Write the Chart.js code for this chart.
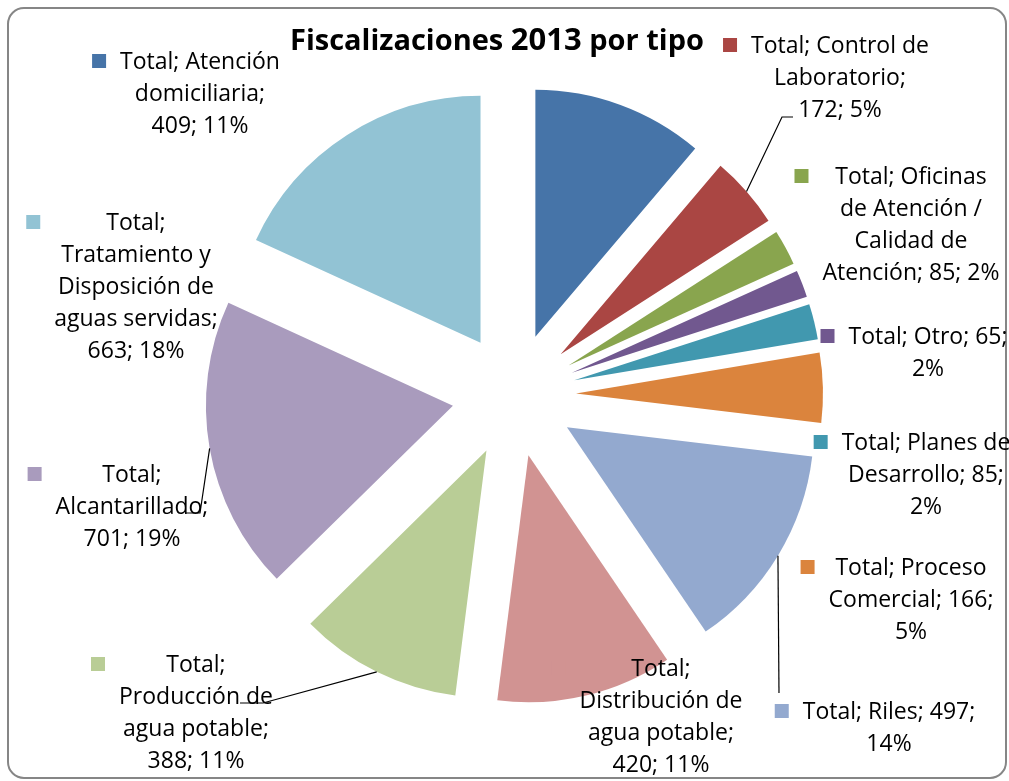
<!DOCTYPE html>
<html lang="es">
<head>
    <meta charset="UTF-8">
    <title>Fiscalizaciones 2013 por tipo</title>
    <script src="https://cdn.jsdelivr.net/npm/chart.js"></script>
    <style>
        body {
            margin: 0;
            background-color: #ffffff;
        }
        .chart-box {
            position: relative;
            width: 1009px;
            height: 781px;
        }
    </style>
</head>
<body>
    <div class="chart-box">
        <canvas id="pieChart"></canvas>
    </div>

    <script>
        // Data
        const categories = ['Atención domiciliaria', 'Control de Laboratorio', 'Oficinas de Atención / Calidad de Atención',
            'Otro', 'Planes de Desarrollo', 'Proceso Comercial', 'Riles', 'Distribución de agua potable',
            'Producción de agua potable', 'Alcantarillado', 'Tratamiento y Disposición de aguas servidas'];
        const values = [409, 172, 85, 65, 85, 166, 497, 420, 388, 701, 663];
        const percents = ['11%', '5%', '2%', '2%', '2%', '5%', '14%', '11%', '11%', '19%', '18%'];
        const colors = ['#4674A8', '#AA4643', '#89A54E', '#71588F', '#4198AF', '#DB843D',
            '#93A9CF', '#D19392', '#B9CD96', '#A99BBD', '#92C3D4'];

        // label layout: wrapped lines, block centre x, first line centre y, optional leader points
        const labelLayout = [
            { x: 200, y: 61, lines: ['Total; Atención', 'domiciliaria;', '409; 11%'] },
            { x: 840, y: 45, lines: ['Total; Control de', 'Laboratorio;', '172; 5%'], leader: [[793, 117], [782, 117]] },
            { x: 911, y: 176, lines: ['Total; Oficinas', 'de Atención /', 'Calidad de', 'Atención; 85; 2%'] },
            { x: 928, y: 336, lines: ['Total; Otro; 65;', '2%'] },
            { x: 926, y: 442, lines: ['Total; Planes de', 'Desarrollo; 85;', '2%'] },
            { x: 911, y: 567, lines: ['Total; Proceso', 'Comercial; 166;', '5%'] },
            { x: 889, y: 711, lines: ['Total; Riles; 497;', '14%'], leader: [[779, 693]] },
            { x: 661, y: 668, lines: ['Total;', 'Distribución de', 'agua potable;', '420; 11%'] },
            { x: 196, y: 664, lines: ['Total;', 'Producción de', 'agua potable;', '388; 11%'], leader: [[240, 703], [263, 703]] },
            { x: 132, y: 474, lines: ['Total;', 'Alcantarillado;', '701; 19%'], leader: [[185, 513], [200, 513]] },
            { x: 136, y: 222, lines: ['Total;', 'Tratamiento y', 'Disposición de', 'aguas servidas;', '663; 18%'] }
        ];

        const EXPLODE = 62;
        const FONT = '"Open Sans", sans-serif';
        const LABEL_SIZE = 23;
        const LINE_H = 32;

        // pull every slice out along its bisector, drawing it with the arc's own draw()
        const explodePlugin = {
            id: 'explode',
            beforeDatasetDraw(chart, args) {
                const ctx = chart.ctx;
                const meta = args.meta;
                meta.data.forEach(arc => {
                    const mid = (arc.startAngle + arc.endAngle) / 2;
                    ctx.save();
                    ctx.translate(Math.cos(mid) * EXPLODE, Math.sin(mid) * EXPLODE);
                    arc.draw(ctx, chart.chartArea);
                    ctx.restore();
                });
                return false;
            }
        };

        const labelsPlugin = {
            id: 'excelLabels',
            afterDraw(chart) {
                const ctx = chart.ctx;
                const meta = chart.getDatasetMeta(0);

                // outer frame
                ctx.save();
                ctx.strokeStyle = '#868686';
                ctx.lineWidth = 2;
                ctx.beginPath();
                ctx.roundRect(8, 8, 998, 770, 16);
                ctx.stroke();
                ctx.restore();

                // title
                ctx.save();
                ctx.fillStyle = '#000';
                ctx.textBaseline = 'alphabetic';
                const parts = [['Fiscalizaciones ', 29], ['2013', 31], [' por tipo', 29]];
                let total = 0;
                parts.forEach(p => {
                    ctx.font = `bold ${p[1]}px ${FONT}`;
                    total += ctx.measureText(p[0]).width;
                });
                let tx = 497 - total / 2;
                parts.forEach(p => {
                    ctx.font = `bold ${p[1]}px ${FONT}`;
                    ctx.fillText(p[0], tx, 50);
                    tx += ctx.measureText(p[0]).width;
                });
                ctx.restore();

                // leaders
                ctx.save();
                ctx.strokeStyle = '#000';
                ctx.lineWidth = 1.2;
                labelLayout.forEach((lab, i) => {
                    if (!lab.leader) return;
                    const arc = meta.data[i];
                    const mid = (arc.startAngle + arc.endAngle) / 2;
                    const r = EXPLODE + arc.outerRadius;
                    const ax = arc.x + Math.cos(mid) * r;
                    const ay = arc.y + Math.sin(mid) * r;
                    ctx.beginPath();
                    ctx.moveTo(ax, ay);
                    for (let k = lab.leader.length - 1; k >= 0; k--) {
                        ctx.lineTo(lab.leader[k][0], lab.leader[k][1]);
                    }
                    ctx.stroke();
                });
                ctx.restore();

                // labels with colour keys
                ctx.save();
                ctx.font = `${LABEL_SIZE}px ${FONT}`;
                ctx.textAlign = 'center';
                ctx.textBaseline = 'alphabetic';
                labelLayout.forEach((lab, i) => {
                    const maxW = Math.max(...lab.lines.map(l => ctx.measureText(l).width));
                    const keyX = lab.x - maxW / 2 - 28;
                    ctx.fillStyle = colors[i];
                    ctx.fillRect(keyX, lab.y - 7, 14, 14);
                    ctx.fillStyle = '#000';
                    lab.lines.forEach((line, k) => {
                        ctx.fillText(line, lab.x, lab.y + k * LINE_H + 8);
                    });
                });
                ctx.restore();
            }
        };

        new Chart(document.getElementById('pieChart'), {
            type: 'pie',
            data: {
                labels: categories,
                datasets: [{
                    data: values,
                    backgroundColor: colors,
                    borderWidth: 0
                }]
            },
            options: {
                responsive: true,
                maintainAspectRatio: false,
                animation: false,
                radius: 247,
                layout: {
                    padding: { left: 19, top: 9, right: 0, bottom: 0 }
                },
                plugins: {
                    legend: { display: false },
                    tooltip: { enabled: false }
                }
            },
            plugins: [explodePlugin, labelsPlugin]
        });
    </script>
</body>
</html>
